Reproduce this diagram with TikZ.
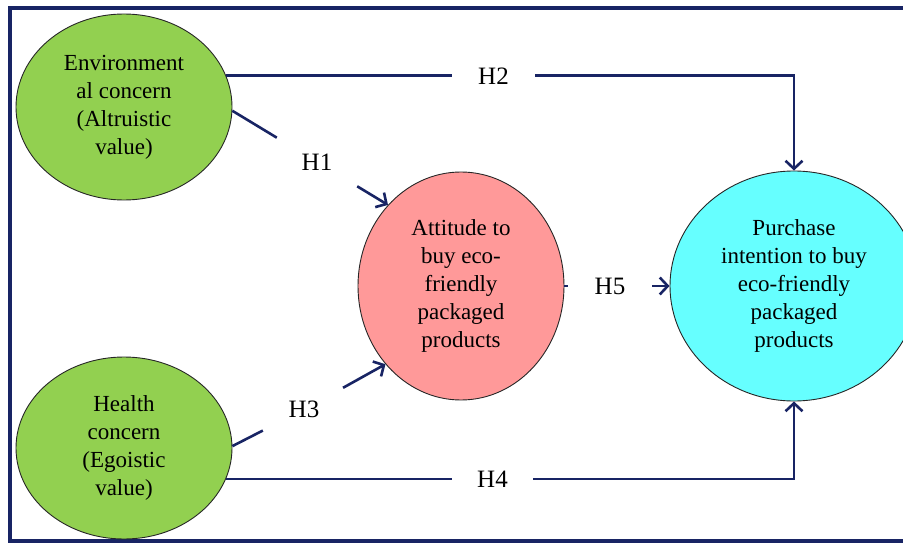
\documentclass[tikz,border=0pt]{standalone}
\usepackage{fontspec}
\setmainfont{Liberation Serif}
\usetikzlibrary{shapes.geometric,arrows.meta}
\definecolor{navy}{RGB}{24,36,100}
\definecolor{envgreen}{RGB}{146,208,80}
\definecolor{attpink}{RGB}{255,153,153}
\definecolor{purcyan}{RGB}{102,255,255}
\begin{document}
\begin{tikzpicture}[x=1pt,y=-1pt,
  construct/.style={ellipse,draw=black!85,line width=0.9pt,inner sep=0pt,align=center,font=\fontsize{23}{28}\selectfont},
  hlab/.style={inner sep=0pt,font=\fontsize{25}{28}\selectfont},
  conn/.style={draw=navy,line width=2.6pt},
  arr/.style={conn,-{Straight Barb[length=8pt,width=17pt]}},
  outerframe/.style={draw=navy,line width=3.2pt}]
\useasboundingbox (0,0) rectangle (903,543);
\draw[outerframe] (10,8) rectangle (915,541);
\node[construct,fill=envgreen,minimum width=216pt,minimum height=186pt] (env) at (124,107) {Environment\\al concern\\(Altruistic\\value)};
\node[construct,fill=envgreen,minimum width=216pt,minimum height=182pt] (hea) at (124,448) {Health\\concern\\(Egoistic\\value)};
\node[construct,fill=attpink,minimum width=206pt,minimum height=228pt] (att) at (461,286) {Attitude to\\buy eco-\\friendly\\packaged\\products};
\node[construct,fill=purcyan,minimum width=248pt,minimum height=230pt] (pur) at (794,286) {Purchase\\intention to buy\\eco-friendly\\packaged\\products};
\node[hlab,minimum width=83pt,minimum height=30pt] (H2) at (env.17.6 -| 493.5,0) {H2};
\node[hlab,minimum width=81pt,minimum height=30pt] (H4) at (hea.-17.6 -| 492.5,0) {H4};
\node[hlab,minimum width=84pt,minimum height=30pt] (H5) at (att.east -| 610,0) {H5};
\node[hlab,minimum width=80pt,minimum height=50pt] (H1) at (317,162) {H1};
\node[hlab,minimum width=82pt,minimum height=43pt] (H3) at (304,409.5) {H3};
\draw[conn] (env.17.6) -- (H2.west);
\draw[arr] (H2.east) -| (pur.north);
\draw[conn] (hea.-17.6) -- (H4.west);
\draw[arr] (H4.east) -| (pur.south);
\draw[conn] (att.east) -- (H5.west);
\draw[arr] (H5.east) -- (pur.west);
\draw[conn] (env.-2) -- (H1);
\draw[arr] (H1) -- (att.132.4);
\draw[conn] (hea.1) -- (H3);
\draw[arr] (H3) -- (att.226.9);
\end{tikzpicture}
\end{document}
